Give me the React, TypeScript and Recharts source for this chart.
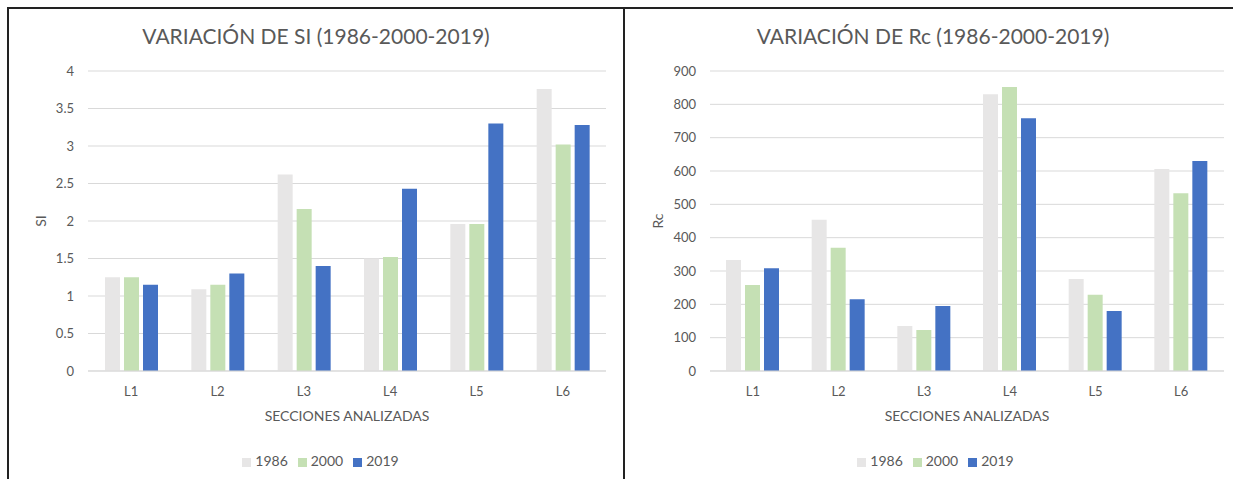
import { Bar, BarChart, CartesianGrid, Legend, XAxis, YAxis } from 'recharts';

const sections = ['L1', 'L2', 'L3', 'L4', 'L5', 'L6'];
const years = ['1986', '2000', '2019'];
const colors = ['#E7E6E6', '#C5E0B4', '#4472C4'];

const si1986 = [1.25, 1.09, 2.62, 1.5, 1.96, 3.76];
const si2000 = [1.25, 1.15, 2.16, 1.52, 1.96, 3.02];
const si2019 = [1.15, 1.3, 1.4, 2.43, 3.3, 3.28];
const siTicks = [0, 0.5, 1, 1.5, 2, 2.5, 3, 3.5, 4];

const rc1986 = [333, 454, 135, 830, 276, 606];
const rc2000 = [258, 370, 123, 852, 229, 533];
const rc2019 = [308, 215, 195, 758, 180, 630];
const rcTicks = [0, 100, 200, 300, 400, 500, 600, 700, 800, 900];

const font = 'Lato, Calibri, "Open Sans", sans-serif';
const textColor = '#595959';
const gridColor = '#D9D9D9';

function build(a: number[], b: number[], c: number[]) {
  return sections.map((s, i) => ({ name: s, '1986': a[i], '2000': b[i], '2019': c[i] }));
}

const yTitle = (text: string, x: number) => (props: any) => {
  const vb = props.viewBox;
  const y = vb.y + vb.height / 2;
  return (
    <text
      x={x}
      y={y}
      transform={`rotate(-90, ${x}, ${y})`}
      textAnchor="middle"
      dominantBaseline="central"
      fill={textColor}
      fontSize={14}
      fontFamily={font}
    >
      {text}
    </text>
  );
};

function Panel(props: {
  left: number;
  width: number;
  title: string;
  yLabel: string;
  data: any[];
  ticks: number[];
  plotLeft: number;
  marginRight: number;
  labelX: number;
  titleShift: number;
  legendShift: number;
}) {
  const { left, width, title, yLabel, data, ticks, plotLeft, marginRight, labelX, titleShift, legendShift } = props;
  const height = 470;
  return (
    <div style={{ position: 'absolute', left, top: 9, width, height }}>
      <div
        style={{
          position: 'absolute',
          top: 15,
          left: titleShift,
          width,
          textAlign: 'center',
          fontFamily: font,
          fontSize: 21,
          lineHeight: '24px',
          color: textColor,
        }}
      >
        {title}
      </div>
      <BarChart
        width={width}
        height={height}
        data={data}
        margin={{ top: 62, right: marginRight, left: 0, bottom: 8 }}
        barSize={15}
        barGap={4}
      >
        <CartesianGrid vertical={false} stroke={gridColor} />
        <XAxis
          dataKey="name"
          height={80}
          tickLine={false}
          axisLine={{ stroke: gridColor }}
          tickSize={0}
          tickMargin={16}
          tick={{ fill: textColor, fontSize: 13, fontFamily: font }}
          label={{
            value: 'SECCIONES ANALIZADAS',
            position: 'insideBottom',
            offset: 30,
            fill: textColor,
            fontSize: 14,
            fontFamily: font,
          }}
        />
        <YAxis
          width={plotLeft}
          domain={[ticks[0], ticks[ticks.length - 1]]}
          ticks={ticks}
          interval={0}
          axisLine={false}
          tickLine={false}
          tickSize={0}
          tickMargin={14}
          tick={{ fill: textColor, fontSize: 13, fontFamily: font }}
          label={{ content: yTitle(yLabel, labelX) }}
        />
        <Legend
          verticalAlign="bottom"
          align="center"
          iconType="square"
          iconSize={9}
          wrapperStyle={{
            height: 20,
            lineHeight: '20px',
            fontFamily: font,
            fontSize: 14,
            paddingLeft: legendShift * 2,
            boxSizing: 'border-box',
          }}
          formatter={(v: any) => <span style={{ color: textColor }}>{v}</span>}
        />
        {years.map((y, i) => (
          <Bar key={y} dataKey={y} fill={colors[i]} isAnimationActive={false} />
        ))}
      </BarChart>
    </div>
  );
}

function App() {
  const line = '#222';
  return (
    <div
      style={{
        position: 'absolute',
        left: 0,
        top: 0,
        width: 1233,
        height: 479,
        background: '#fff',
        overflow: 'hidden',
      }}
    >
      <div style={{ position: 'absolute', left: 7, top: 7, width: 1226, height: 2, background: line }} />
      <div style={{ position: 'absolute', left: 7, top: 7, width: 2, height: 472, background: line }} />
      <div style={{ position: 'absolute', left: 623, top: 7, width: 2, height: 472, background: line }} />
      <Panel
        left={9}
        width={614}
        title="VARIACIÓN DE SI (1986-2000-2019)"
        yLabel="SI"
        data={build(si1986, si2000, si2019)}
        ticks={siTicks}
        plotLeft={79}
        marginRight={17}
        labelX={31}
        titleShift={0}
        legendShift={18}
      />
      <Panel
        left={625}
        width={608}
        title="VARIACIÓN DE Rc (1986-2000-2019)"
        yLabel="Rc"
        data={build(rc1986, rc2000, rc2019)}
        ticks={rcTicks}
        plotLeft={85}
        marginRight={9}
        labelX={32}
        titleShift={4}
        legendShift={16}
      />
    </div>
  );
}

export default App;
